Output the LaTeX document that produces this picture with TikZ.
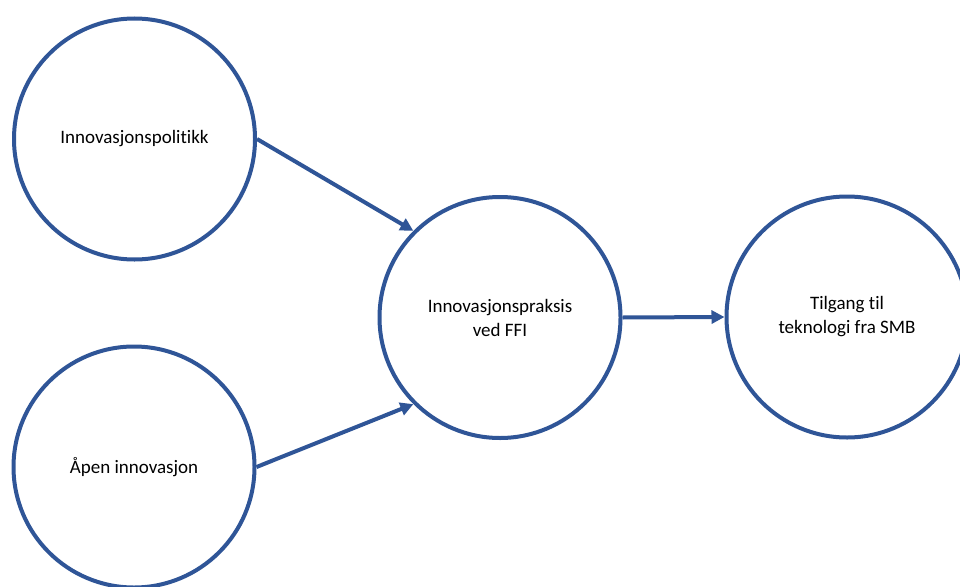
\documentclass[tikz,border=0pt]{standalone}
\usepackage{fontspec}
\setmainfont[Ligatures=NoCommon]{Carlito}
\usetikzlibrary{arrows.meta}
\definecolor{ringblue}{RGB}{47,85,151}
\tikzset{
  ring/.style={circle, draw=ringblue, line width=4pt, minimum size=241pt, inner sep=0pt, align=center, font=\fontsize{19pt}{24pt}\selectfont},
  link/.style={draw=ringblue, line width=4pt, -{Triangle[length=13pt,width=13pt]}}
}
\begin{document}
\begin{tikzpicture}[x=1pt,y=-1pt]
\useasboundingbox (0,0) rectangle (960,586);
\clip (0,0) rectangle (960,586);
\node[ring] (pol) at (134.5,139) {Innovasjonspolitikk};
\node[ring] (open) at (134,467) {Åpen innovasjon};
\node[ring] (prak) at (500,317.5) {Innovasjonspraksis\\ved FFI};
\node[ring] (tilg) at (847,317) {Tilgang til\\teknologi fra SMB};
\draw[link] (pol.east) -- (prak.135);
\draw[link] (open.east) -- (prak.225);
\draw[link] (prak.east) -- (tilg.west);
\end{tikzpicture}
\end{document}
